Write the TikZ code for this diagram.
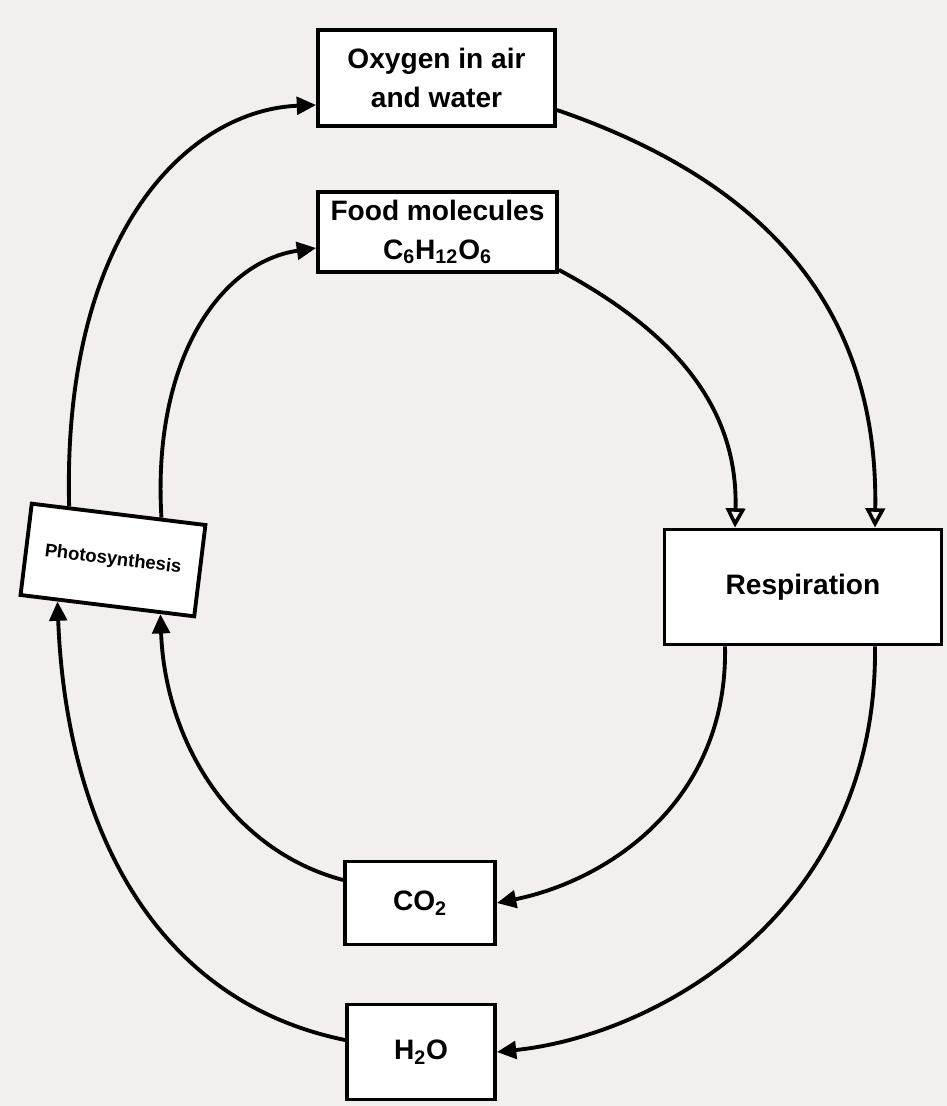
\documentclass[tikz,border=0pt]{standalone}
\usepackage{fontspec}
\setmainfont{Liberation Sans}
\usetikzlibrary{arrows.meta,calc}
\definecolor{paper}{RGB}{244,239,239}
\tikzset{
  box/.style={draw=black, line width=2.2pt, fill=white, align=center, inner sep=2pt,
    font=\bfseries\fontsize{16}{22}\selectfont},
  flow/.style={line width=2.2pt, -{Triangle[length=11pt,width=10pt]}},
  flowopen/.style={line width=2.2pt, -{Triangle[open,length=11pt,width=11pt,line width=2pt]}}
}
\begin{document}
\begin{tikzpicture}[x=0.02cm,y=-0.02cm]
\fill[paper] (0,0) rectangle (947,1106);
\useasboundingbox (0,0) rectangle (947,1106);

\node[box, minimum width=4.74cm, minimum height=1.92cm] (ox) at (436.5,78) {Oxygen in air\\and water};
\node[box, minimum width=4.78cm, minimum height=1.6cm] (fd) at (437.5,232) {Food molecules\\C\textsubscript{6}H\textsubscript{12}O\textsubscript{6}};
\node[box, minimum width=3.5cm, minimum height=1.84cm, rotate=-7,
      font=\bfseries\fontsize{10.5}{12}\selectfont] (ph) at (113,560) {Photosynthesis};
\node[box, minimum width=5.54cm, minimum height=2.3cm] (rs) at (803,587) {Respiration};
\node[box, minimum width=3.0cm, minimum height=1.66cm] (co) at (420,903) {CO\textsubscript{2}};
\node[box, minimum width=2.96cm, minimum height=1.9cm] (hw) at (421,1052) {H\textsubscript{2}O};

% photosynthesis -> oxygen, food
\draw[flow] ($(ph.north west)!0.22!(ph.north east)$) .. controls (62,230) and (190,110) .. ([yshift=-0.54cm]ox.west);
\draw[flow] ($(ph.north west)!0.74!(ph.north east)$) .. controls (152,360) and (220,262) .. ([yshift=-0.32cm]fd.west);

% oxygen, food -> respiration
\draw[flowopen] ([yshift=-0.64cm]ox.east) .. controls (790,190) and (878,330) .. ([xshift=1.44cm]rs.north);
\draw[flowopen] ([yshift=0.08cm]fd.south east) .. controls (690,340) and (738,420) .. ([xshift=-1.36cm]rs.north);

% respiration -> CO2, H2O
\draw[flow] ([xshift=-1.56cm]rs.south) .. controls (728,800) and (610,880) .. (co.east);
\draw[flow] ([xshift=1.44cm]rs.south) .. controls (878,910) and (660,1035) .. (hw.east);

% CO2, H2O -> photosynthesis
\draw[flow] ([yshift=0.46cm]co.west) .. controls (230,850) and (165,740) .. ($(ph.south west)!0.8!(ph.south east)$);
\draw[flow] ([yshift=0.24cm]hw.west) .. controls (150,1000) and (66,820) .. ($(ph.south west)!0.22!(ph.south east)$);
\end{tikzpicture}
\end{document}
